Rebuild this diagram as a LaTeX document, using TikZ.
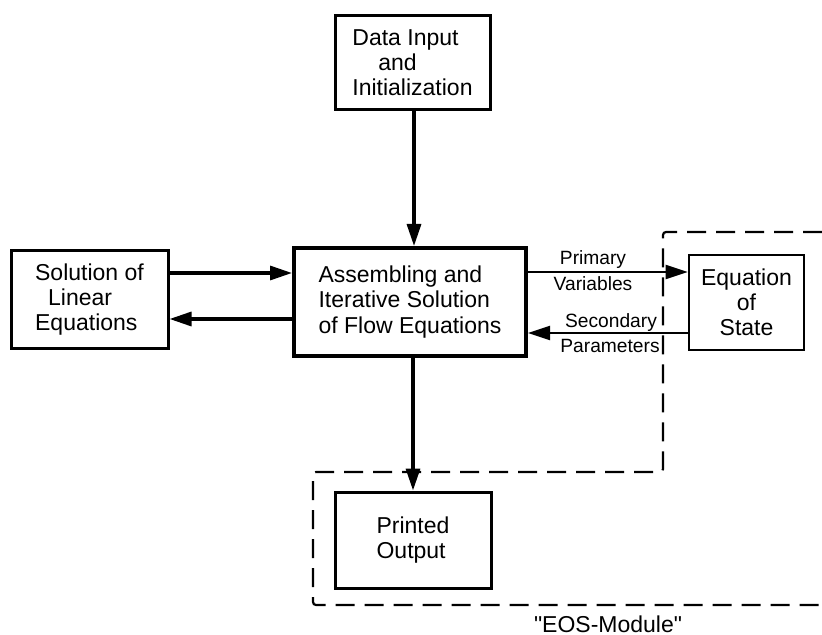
\documentclass[tikz,border=0pt]{standalone}
\usepackage{fontspec}
\setmainfont{Liberation Sans}
\usetikzlibrary{arrows.meta}
\begin{document}
\begin{tikzpicture}[x=0.5pt,y=-0.5pt,
  box/.style={draw,line width=1.5pt,inner sep=0pt,font=\fontsize{11.5pt}{12.6pt}\selectfont},
  lbl/.style={inner sep=0pt,font=\fontsize{9.6pt}{11pt}\selectfont},
  arr/.style={line width=1.6pt,-{Triangle[length=11pt,width=7pt]}},
  thinarr/.style={line width=1.15pt,-{Triangle[length=11pt,width=7pt]}},
  eosline/.style={line width=1.1pt,dash pattern=on 9.5pt off 5pt,rounded corners=1.5pt}]
\useasboundingbox (0,0) rectangle (822,635);
% boxes
\node[box,minimum width=77.5pt,minimum height=47pt,align=left] (top) at (412.5,63)
  {Data Input\\\hspace*{13pt}and\\Initialization};
\node[box,line width=2pt,minimum width=116pt,minimum height=54pt,align=left] (main) at (410,302)
  {Assembling and\\Iterative Solution\\of Flow Equations};
\node[box,minimum width=78.5pt,minimum height=49pt,align=left] (lin) at (89.5,299.5)
  {Solution of\\\hspace*{6.5pt}Linear\\Equations};
\node[box,line width=1.3pt,minimum width=57.5pt,minimum height=47.5pt,align=center] (eos) at (746.5,302.5)
  {Equation\\of\\State};
\node[box,minimum width=78pt,minimum height=48pt,align=left] (out) at (413,540)
  {Printed\\Output};
% labels
\node[lbl] (pv1) at (593,260) {Primary};
\node[lbl] (pv2) at (593,284) {Variables};
\node[lbl] (sp1) at (611,323) {Secondary};
\node[lbl] (sp2) at (610,346) {Parameters};
\node[inner sep=0pt,anchor=base,font=\fontsize{11.5pt}{12.6pt}\selectfont] (eoslbl) at (608,632) {\textquotedbl EOS-Module\textquotedbl};
% connectors
\draw[arr] (top.south -| 414,0) -- (main.north -| 414,0);
\draw[arr] (main.south -| out.north) -- (out.north);
\draw[arr] (lin.east |- 0,273) -- (main.west |- 0,273);
\draw[arr] (main.west |- 0,319) -- (lin.east |- 0,319);
\draw[thinarr] (main.east |- 0,272) -- (eos.west |- 0,272);
\draw[thinarr] (eos.west |- 0,333) -- (main.east |- 0,333);
% EOS module boundary
\draw[eosline] (822,232) -- (663,232) -- (663,472) -- (313,472) -- (313,605) -- (822,605);
\end{tikzpicture}
\end{document}
